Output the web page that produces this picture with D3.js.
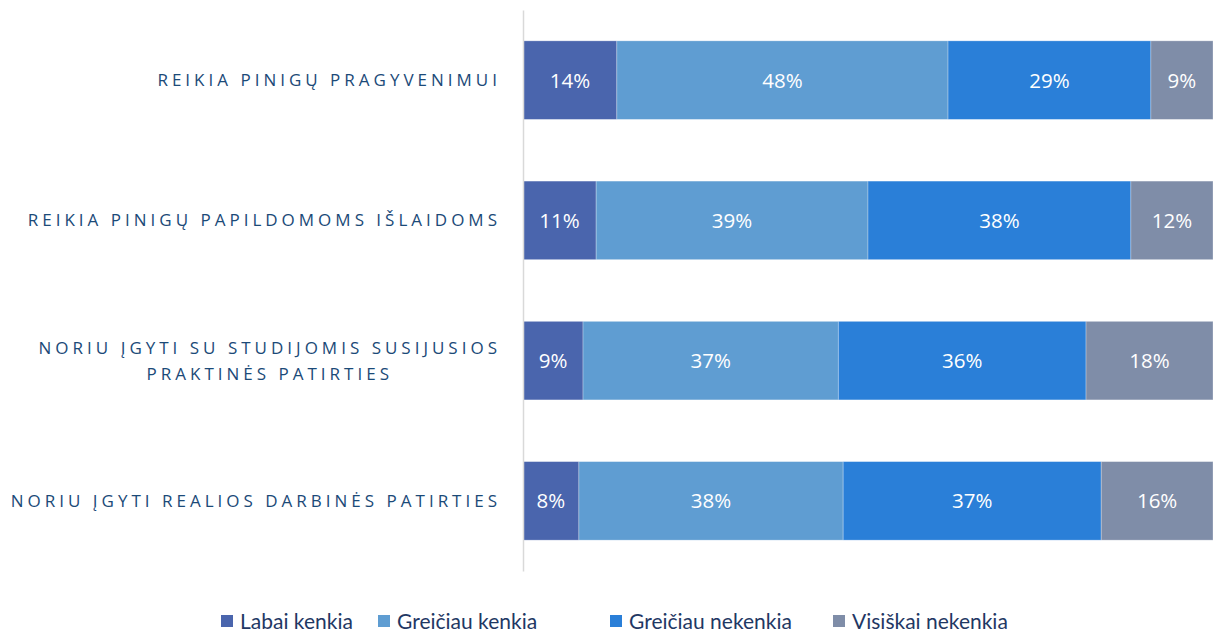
<!DOCTYPE html>
<html>
<head>
<meta charset="utf-8">
<script src="https://cdn.jsdelivr.net/npm/d3@7"></script>
<style>
  body { margin: 0; background: #fff; }
  svg { display: block; }
</style>
</head>
<body>
<svg id="drawing_region"></svg>
<script>
// categories (top to bottom)
const categories = [
    ["REIKIA PINIGŲ PRAGYVENIMUI"],
    ["REIKIA PINIGŲ PAPILDOMOMS IŠLAIDOMS"],
    ["NORIU ĮGYTI SU STUDIJOMIS SUSIJUSIOS", "PRAKTINĖS PATIRTIES"],
    ["NORIU ĮGYTI REALIOS DARBINĖS PATIRTIES"]
];
const seriesNames = ["Labai kenkia", "Greičiau kenkia", "Greičiau nekenkia", "Visiškai nekenkia"];
const labaiKenkia      = [13.6, 10.6, 8.7, 8.1];
const greiciauKenkia   = [48.0, 39.4, 37.0, 38.3];
const greiciauNekenkia = [29.4, 38.1, 35.9, 37.4];
const visiskaiNekenkia = [9.0, 11.9, 18.4, 16.2];
const colors = ["#4a65ad", "#5f9dd2", "#2a7fd8", "#7f8da8"];

const seriesValues = [labaiKenkia, greiciauKenkia, greiciauNekenkia, visiskaiNekenkia];
const table = categories.map((c, i) => {
    const row = { idx: i };
    seriesNames.forEach((s, j) => row[s] = seriesValues[j][i]);
    return row;
});

const width = 1214, height = 633;
const margin = { top: 10, right: 1, bottom: 62, left: 523 };
const innerW = width - margin.left - margin.right;
const innerH = height - margin.top - margin.bottom;

const svg = d3.select('#drawing_region')
    .attr('width', width)
    .attr('height', height);

const chart = svg.append('g')
    .attr('transform', `translate(${margin.left}, ${margin.top})`);

const stack = d3.stack().keys(seriesNames)
    .offset(d3.stackOffsetExpand);
const stacked = stack(table);

const xscale = d3.scaleLinear().domain([0, 1]).range([0, innerW]);
const yscale = d3.scaleBand()
    .domain(table.map(d => d.idx))
    .range([0, innerH])
    .paddingInner(0.44)
    .paddingOuter(0.22);

const groups = chart.selectAll('g.series')
    .data(stacked)
    .enter()
    .append('g')
    .attr('class', 'series')
    .attr('fill', (d, i) => colors[i]);

groups.selectAll('rect')
    .data(d => d)
    .enter()
    .append('rect')
    .attr('x', d => xscale(d[0]))
    .attr('y', d => yscale(d.data.idx))
    .attr('width', d => xscale(d[1]) - xscale(d[0]))
    .attr('height', yscale.bandwidth())
    .attr('stroke', '#ffffff')
    .attr('stroke-opacity', 0.35)
    .attr('stroke-width', 0.8);

groups.each(function (s, si) {
    d3.select(this).selectAll('text')
        .data(s)
        .enter()
        .append('text')
        .attr('x', d => (xscale(d[0]) + xscale(d[1])) / 2)
        .attr('y', d => yscale(d.data.idx) + yscale.bandwidth() / 2)
        .attr('dy', '0.36em')
        .attr('text-anchor', 'middle')
        .attr('fill', '#ffffff')
        .style('font-family', '"Open Sans", sans-serif')
        .style('font-size', '20.5px')
        .text((d, i) => Math.round(seriesValues[si][i]) + '%');
});

// vertical axis line
const yaxis = d3.axisLeft(yscale).tickSize(0).tickFormat('');
const yaxis_group = chart.append('g').call(yaxis);
yaxis_group.select('.domain')
    .attr('stroke', '#d9d9d9')
    .attr('stroke-width', 1.5);

// category labels
const labels = chart.append('g');
categories.forEach((lines, i) => {
    const cy = yscale(i) + yscale.bandwidth() / 2;
    const t = labels.append('text')
        .attr('y', cy - (lines.length - 1) * 13)
        .attr('text-anchor', 'end')
        .attr('fill', '#1b4a78')
        .style('font-family', '"Open Sans", sans-serif')
        .style('font-size', '17px')
        .style('letter-spacing', '4.0px');
    const first = t.append('tspan')
        .attr('x', -22)
        .attr('dy', '0.36em')
        .text(lines[0]);
    if (lines.length > 1) {
        // second line is centred under the first one
        const w1 = first.node().getComputedTextLength();
        const tmp = t.append('tspan').attr('x', -22).attr('dy', '26px').text(lines[1]);
        const w2 = tmp.node().getComputedTextLength();
        tmp.attr('x', -22 - (w1 - w2) / 2);
    }
});

// legend
const legendX = [221, 378, 610, 833];
const legend = svg.append('g');
seriesNames.forEach((name, i) => {
    const g = legend.append('g').attr('transform', `translate(${legendX[i]}, 621)`);
    g.append('rect')
        .attr('x', 0).attr('y', -6)
        .attr('width', 12).attr('height', 12)
        .attr('fill', colors[i]);
    g.append('text')
        .attr('x', 19)
        .attr('dy', '0.36em')
        .attr('fill', '#1f3864')
        .style('font-family', 'Lato, sans-serif')
        .style('font-size', '21px')
        .text(name);
});
</script>
</body>
</html>
